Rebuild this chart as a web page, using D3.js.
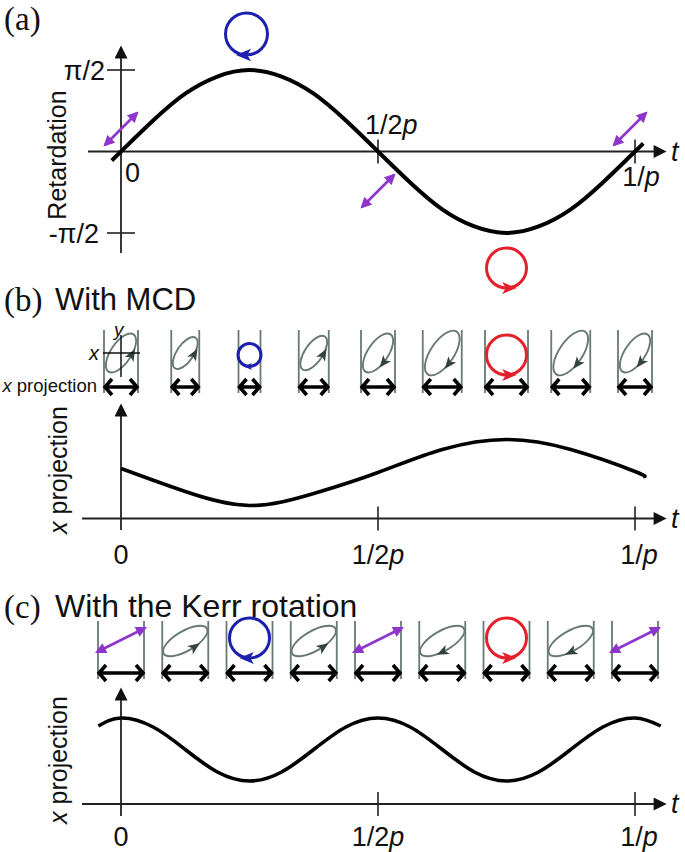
<!DOCTYPE html>
<html>
<head>
<meta charset="utf-8">
<script src="https://cdn.jsdelivr.net/npm/d3@7"></script>
<style>
  body { margin: 0; background: #fff; }
  text { font-family: "Liberation Sans", Arial, sans-serif; fill: #111; }
  .serif { font-family: "Liberation Serif", "Times New Roman", serif; }
</style>
</head>
<body>
<div id="chart"></div>
<script>
// ---------------- data ----------------
// panel (a): retardation in units of pi/2
const tA = [-0.018, 0, 0.0625, 0.125, 0.1875, 0.25, 0.3125, 0.375, 0.4375, 0.5, 0.5625, 0.625, 0.6875, 0.75, 0.8125, 0.875, 0.9375, 1, 1.016]
const retard = [-0.11, 0, 0.38, 0.71, 0.92, 1, 0.92, 0.71, 0.38, 0, -0.38, -0.71, -0.92, -1, -0.92, -0.71, -0.38, 0, 0.1]

// panel (b): x projection with MCD
const tB = [0, 0.125, 0.25, 0.375, 0.5, 0.625, 0.75, 0.875, 1, 1.016]
const projMCD = [0.50, 0.27, 0.13, 0.25, 0.46, 0.69, 0.79, 0.69, 0.47, 0.42]

// panel (c): x projection with the Kerr rotation
const tC = [-0.044, 0, 0.0625, 0.125, 0.1875, 0.25, 0.3125, 0.375, 0.4375, 0.5, 0.5625, 0.625, 0.6875, 0.75, 0.8125, 0.875, 0.9375, 1, 1.05]
const projKerr = [0.78, 0.86, 0.77, 0.545, 0.32, 0.23, 0.32, 0.545, 0.77, 0.86, 0.77, 0.545, 0.32, 0.23, 0.32, 0.545, 0.77, 0.86, 0.78]

// polarisation icons, one every 1/8 period
const iconT = [0, 0.125, 0.25, 0.375, 0.5, 0.625, 0.75, 0.875, 1]
const iconsB = ["cw", "cw", "blue", "cw", "ccw", "ccw", "red", "ccw", "ccw"]
const widthsB = [34, 28, 22, 30, 34, 39, 43, 39, 34]
const iconsC = ["lin", "cw", "blue", "cw", "lin", "ccw", "red", "ccw", "lin"]

const tickT = [0.5, 1]
const tickLabels = [["0", ""], ["1/2", "p"], ["1/", "p"]]
const tickLabelT = [0, 0.5, 1]

// ---------------- layout ----------------
const width = 685, height = 852
const BLUE = "#1c1fae", RED = "#e3202b", PURPLE = "#8e35cc", GREY = "#677975", DARK = "#34423f"

const svg = d3.select("#chart").append("svg")
  .attr("width", width).attr("height", height)

const defs = svg.append("defs")
const mk = (id, color, w, h) => defs.append("marker")
  .attr("id", id).attr("viewBox", "0 0 10 10").attr("refX", 8).attr("refY", 5)
  .attr("markerUnits", "userSpaceOnUse").attr("markerWidth", w).attr("markerHeight", h)
  .attr("orient", "auto-start-reverse")
  .append("path").attr("d", "M0,0 L10,5 L0,10 Z").attr("fill", color)
mk("axArrow", "#111", 15, 13)
mk("purpleArrow", PURPLE, 12, 11)

const x = d3.scaleLinear().domain([0, 1]).range([121, 635])
const yA = d3.scaleLinear().domain([-1, 1]).range([233, 70])
const yB = d3.scaleLinear().domain([0, 1]).range([518.5, 418.5])
const yC = d3.scaleLinear().domain([0, 1]).range([804, 704])

const line = (xs, ys, tArr, vArr) => d3.line()
  .x((d, i) => xs(tArr[i])).y(d => ys(d)).curve(d3.curveNatural)(vArr)

function axes(g, y0, yTop, yBottom, xStart) {
  // x axis
  g.append("line").attr("x1", xStart).attr("x2", 664).attr("y1", y0).attr("y2", y0)
    .attr("stroke", "#222").attr("stroke-width", 1.8).attr("marker-end", "url(#axArrow)")
  g.append("text").attr("x", 671).attr("y", y0 + 9).attr("font-size", 27)
    .attr("font-style", "italic").text("t")
  // y axis
  g.append("line").attr("x1", x(0)).attr("x2", x(0)).attr("y1", yBottom).attr("y2", yTop)
    .attr("stroke", "#222").attr("stroke-width", 1.8).attr("marker-end", "url(#axArrow)")
  // ticks on t
  g.selectAll(".tk").data(tickT).join("line")
    .attr("x1", d => x(d)).attr("x2", d => x(d))
    .attr("y1", y0 - 12).attr("y2", y0 + 12)
    .attr("stroke", "#222").attr("stroke-width", 1.6)
}

function tickText(g, lab, xx, yy, anchor) {
  const tx = g.append("text").attr("x", xx).attr("y", yy).attr("font-size", 27)
    .attr("text-anchor", anchor)
  tx.append("tspan").text(lab[0])
  if (lab[1]) tx.append("tspan").attr("font-style", "italic").text(lab[1])
}

function purpleArrow(g, cx, cy, half, slope) {
  g.append("line")
    .attr("x1", cx - half).attr("y1", cy + half * slope)
    .attr("x2", cx + half).attr("y2", cy - half * slope)
    .attr("stroke", PURPLE).attr("stroke-width", 2.6)
    .attr("marker-start", "url(#purpleArrow)").attr("marker-end", "url(#purpleArrow)")
}

function circ(g, cx, cy, r, color, dir) {
  g.append("circle").attr("cx", cx).attr("cy", cy).attr("r", r)
    .attr("fill", "none").attr("stroke", color).attr("stroke-width", 3)
  // arrowhead at the bottom of the circle; dir -1 => pointing left, +1 => right
  const s = Math.max(8, r * 0.72)
  const bx = cx, by = cy + r
  g.append("path")
    .attr("d", `M${bx + dir * s * 0.7},${by} L${bx - dir * s * 0.3},${by - s * 0.42} L${bx - dir * s * 0.05},${by} L${bx - dir * s * 0.3},${by + s * 0.42} Z`)
    .attr("fill", color)
}

function ellipse(g, cx, cy, rx, ry, angle, dir) {
  const e = g.append("g").attr("transform", `translate(${cx},${cy}) rotate(${angle})`)
  e.append("ellipse").attr("rx", rx).attr("ry", ry)
    .attr("fill", "none").attr("stroke", GREY).attr("stroke-width", 1.9)
  // arrowhead on the lower side of the ellipse
  const th = dir === "cw" ? 80 : 100
  const a = th * Math.PI / 180
  const px = rx * Math.cos(a), py = ry * Math.sin(a)
  let tx = -rx * Math.sin(a), ty = ry * Math.cos(a)
  if (dir === "cw") { tx = -tx; ty = -ty }
  const n = Math.hypot(tx, ty); tx /= n; ty /= n
  const L = 12, W = 5
  e.append("path")
    .attr("d", `M${px + tx * L * 0.6},${py + ty * L * 0.6} L${px - tx * L * 0.4 - ty * W},${py - ty * L * 0.4 + tx * W} L${px - tx * L * 0.15},${py - ty * L * 0.15} L${px - tx * L * 0.4 + ty * W},${py - ty * L * 0.4 - tx * W} Z`)
    .attr("fill", DARK)
}

function cell(g, cx, yTop, yArr, w) {
  g.append("line").attr("x1", cx - w / 2).attr("x2", cx - w / 2).attr("y1", yTop).attr("y2", yArr + 6)
    .attr("stroke", GREY).attr("stroke-width", 1.8)
  g.append("line").attr("x1", cx + w / 2).attr("x2", cx + w / 2).attr("y1", yTop).attr("y2", yArr + 6)
    .attr("stroke", GREY).attr("stroke-width", 1.8)
  // double headed arrow (x projection)
  const h = 8
  g.append("path")
    .attr("d", `M${cx - w / 2 + 1},${yArr} L${cx + w / 2 - 1},${yArr} M${cx - w / 2 + h},${yArr - h} L${cx - w / 2 + 1},${yArr} L${cx - w / 2 + h},${yArr + h} M${cx + w / 2 - h},${yArr - h} L${cx + w / 2 - 1},${yArr} L${cx + w / 2 - h},${yArr + h}`)
    .attr("fill", "none").attr("stroke", "#000").attr("stroke-width", 3.6)
    .attr("stroke-linejoin", "miter").attr("stroke-linecap", "butt")
}

// ================= panel (a) =================
const gA = svg.append("g")
gA.append("text").attr("class", "serif").attr("x", 4).attr("y", 30).attr("font-size", 33).text("(a)")
axes(gA, yA(0), 48, 253, 88)
// retardation ticks
gA.selectAll(".rt").data([1, -1]).join("line")
  .attr("x1", x(0) - 14).attr("x2", x(0) + 14)
  .attr("y1", d => yA(d)).attr("y2", d => yA(d))
  .attr("stroke", "#222").attr("stroke-width", 1.6)
gA.append("text").attr("x", 105).attr("y", yA(1) + 10).attr("font-size", 27).attr("text-anchor", "end").text("π/2")
gA.append("text").attr("x", 99).attr("y", yA(-1) + 10).attr("font-size", 27).attr("text-anchor", "end").text("-π/2")
gA.append("text").attr("transform", `translate(66,${155}) rotate(-90)`)
  .attr("font-size", 25).attr("text-anchor", "middle").text("Retardation")
tickText(gA, tickLabels[0], x(0) + 4, 182, "start")
tickText(gA, tickLabels[1], x(0.5) - 13, 134, "start")
tickText(gA, tickLabels[2], x(1) + 6, 186, "middle")

gA.append("path").attr("d", line(x, yA, tA, retard))
  .attr("fill", "none").attr("stroke", "#000").attr("stroke-width", 4)

purpleArrow(gA, x(0), 129, 16, 1)
purpleArrow(gA, x(0.5), 191, 16, 1)
purpleArrow(gA, x(1) - 5, 129, 16, 1)
circ(gA, x(0.25) - 3, 34, 21, BLUE, -1)
circ(gA, x(0.75), 268, 20, RED, 1)

// ================= panel (b) =================
const gB = svg.append("g")
gB.append("text").attr("class", "serif").attr("x", 4).attr("y", 311).attr("font-size", 33).text("(b)")
gB.append("text").attr("x", 55).attr("y", 310).attr("font-size", 31).text("With MCD")

const cellsB = gB.append("g")
iconT.forEach((t, i) => {
  const cx = x(t), w = widthsB[i]
  cell(cellsB, cx, 330, 387, w)
  const type = iconsB[i]
  if (type === "blue") circ(cellsB, cx, 355, 11.5, BLUE, -1)
  else if (type === "red") circ(cellsB, cx, 355, 20, RED, 1)
  else ellipse(cellsB, cx, 353, w * 0.66, w * 0.3, -56, type)
})
// xy crosshair on the first cell
gB.append("line").attr("x1", 103).attr("x2", 140).attr("y1", 353).attr("y2", 353).attr("stroke", "#111").attr("stroke-width", 1.5)
gB.append("line").attr("x1", 121).attr("x2", 121).attr("y1", 335).attr("y2", 377).attr("stroke", "#111").attr("stroke-width", 1.5)
gB.append("text").attr("x", 114).attr("y", 336).attr("font-size", 19).attr("font-style", "italic").text("y")
gB.append("text").attr("x", 89).attr("y", 360).attr("font-size", 20).attr("font-style", "italic").text("x")
const xpB = gB.append("text").attr("x", 97).attr("y", 392).attr("font-size", 18.5).attr("text-anchor", "end")
xpB.append("tspan").attr("font-style", "italic").text("x")
xpB.append("tspan").text(" projection")

axes(gB, yB(0), 406, 530, 82)
gB.append("path").attr("d", line(x, yB, tB, projMCD))
  .attr("fill", "none").attr("stroke", "#000").attr("stroke-width", 3.6)
gB.append("text").attr("transform", `translate(67,470) rotate(-90)`)
  .attr("font-size", 25).attr("text-anchor", "middle")
  .call(t => { t.append("tspan").attr("font-style", "italic").text("x"); t.append("tspan").text(" projection") })
tickLabelT.forEach((t, i) => tickText(gB, tickLabels[i], x(t) + (i === 2 ? 4 : 0), 564, "middle"))

// ================= panel (c) =================
const gC = svg.append("g")
gC.append("text").attr("class", "serif").attr("x", 4).attr("y", 618).attr("font-size", 33).text("(c)")
gC.append("text").attr("x", 55).attr("y", 617).attr("font-size", 32).text("With the Kerr rotation")

const cellsC = gC.append("g")
iconT.forEach((t, i) => {
  const cx = x(t), w = 46
  cell(cellsC, cx, 621, 673, w)
  const type = iconsC[i]
  if (type === "blue") circ(cellsC, cx, 638, 20, BLUE, -1)
  else if (type === "red") circ(cellsC, cx, 638, 20, RED, 1)
  else if (type === "lin") purpleArrow(cellsC, cx, 640, 24, 0.5)
  else ellipse(cellsC, cx, 641, 25, 10, -30, type)
})

axes(gC, yC(0), 690, 816, 82)
gC.append("path").attr("d", line(x, yC, tC, projKerr))
  .attr("fill", "none").attr("stroke", "#000").attr("stroke-width", 3.6)
gC.append("text").attr("transform", `translate(67,760) rotate(-90)`)
  .attr("font-size", 25).attr("text-anchor", "middle")
  .call(t => { t.append("tspan").attr("font-style", "italic").text("x"); t.append("tspan").text(" projection") })
tickLabelT.forEach((t, i) => tickText(gC, tickLabels[i], x(t) + (i === 2 ? 4 : 0), 846, "middle"))
</script>
</body>
</html>
